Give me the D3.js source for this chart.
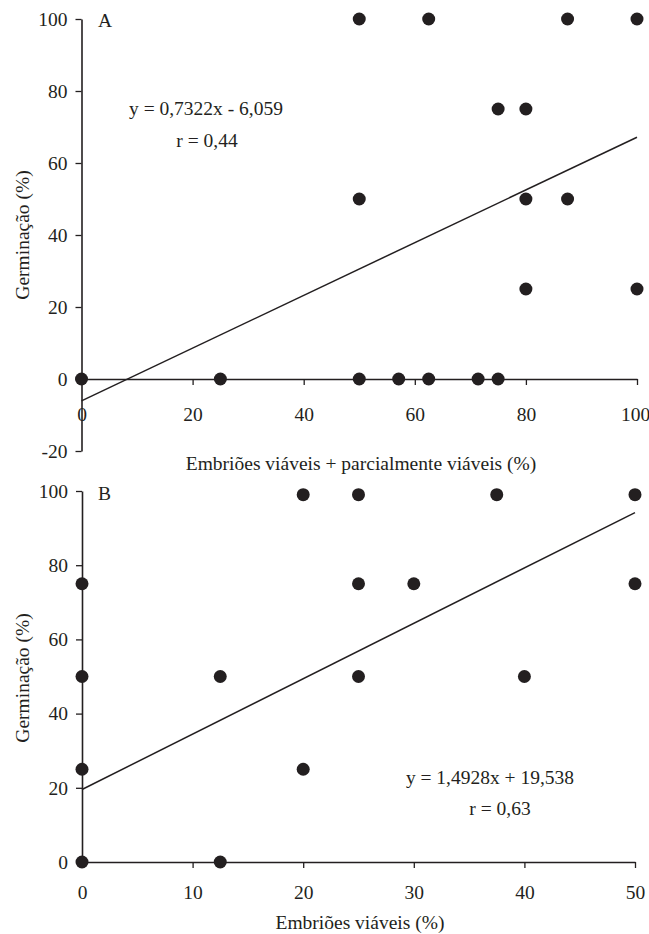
<!DOCTYPE html>
<html>
<head>
<meta charset="utf-8">
<script src="https://cdn.jsdelivr.net/npm/d3@7"></script>
<style>
  html, body { margin: 0; padding: 0; background: #fff; }
  svg { display: block; }
</style>
</head>
<body>
<svg id="chart" width="649" height="934"></svg>
<script>
// ---------- Data ----------
// Panel A: Embriões viáveis + parcialmente viáveis (%) vs Germinação (%)
const panelA_x = [0, 25, 50, 57.1, 62.5, 71.4, 75, 80, 100, 50, 80, 87.5, 75, 80, 50, 62.5, 87.5, 100];
const panelA_y = [0, 0, 0, 0, 0, 0, 0, 25, 25, 50, 50, 50, 75, 75, 100, 100, 100, 100];
const panelA_xTicks = [0, 20, 40, 60, 80, 100];
const panelA_yTicks = [-20, 0, 20, 40, 60, 80, 100];
const panelA_slope = 0.7322, panelA_intercept = -6.059;
const panelA_eq = "y = 0,7322x - 6,059";
const panelA_r = "r = 0,44";

// Panel B: Embriões viáveis (%) vs Germinação (%)
const panelB_x = [0, 12.5, 0, 20, 0, 12.5, 25, 40, 0, 25, 30, 50, 20, 25, 37.5, 50];
const panelB_y = [0, 0, 25, 25, 50, 50, 50, 50, 75, 75, 75, 75, 99, 99, 99, 99];
const panelB_xTicks = [0, 10, 20, 30, 40, 50];
const panelB_yTicks = [0, 20, 40, 60, 80, 100];
const panelB_slope = 1.4928, panelB_intercept = 19.538;
const panelB_eq = "y = 1,4928x + 19,538";
const panelB_r = "r = 0,63";

const yTitle = "Germinação (%)";
const xTitleA = "Embriões viáveis + parcialmente viáveis (%)";
const xTitleB = "Embriões viáveis (%)";

// ---------- Drawing ----------
const ink = "#231f20";
const FONT = "Liberation Serif";
const fontSize = 19.5;
const svg = d3.select("#chart");
const fmt = d => String(d); // plain hyphen for negatives, as in the reference

function txt(sel) {
  return sel.style("font-family", FONT).style("font-size", fontSize + "px").attr("fill", ink);
}

function drawPanel(cfg) {
  const g = svg.append("g");
  const x = d3.scaleLinear().domain(cfg.xDomain).range(cfg.xRange);
  const y = d3.scaleLinear().domain(cfg.yDomain).range(cfg.yRange);

  const ya = g.append("g")
    .attr("transform", `translate(${x(0)},0)`)
    .call(d3.axisLeft(y).tickValues(cfg.yTicks).tickSize(6).tickSizeOuter(0).tickPadding(8).tickFormat(fmt));
  const xa = g.append("g")
    .attr("transform", `translate(0,${y(0)})`)
    .call(d3.axisBottom(x).tickValues(cfg.xTicks).tickSize(6).tickSizeOuter(0).tickPadding(cfg.xPad).tickFormat(fmt));

  [ya, xa].forEach(a => {
    a.attr("font-family", FONT);
    a.select(".domain").attr("stroke", ink).attr("stroke-width", 1.6);
    a.selectAll(".tick line").attr("stroke", ink).attr("stroke-width", 1.3);
    txt(a.selectAll(".tick text"));
  });
  xa.selectAll(".tick text").filter(d => d === cfg.xDomain[1]).attr("dx", cfg.lastDx);

  const xs = d3.extent(cfg.xDomain);
  g.append("line")
    .attr("x1", x(xs[0])).attr("y1", y(cfg.slope * xs[0] + cfg.intercept))
    .attr("x2", x(xs[1])).attr("y2", y(cfg.slope * xs[1] + cfg.intercept))
    .attr("stroke", ink).attr("stroke-width", 1.5);

  g.selectAll("circle.pt").data(cfg.xs.map((v, i) => [v, cfg.ys[i]]))
    .join("circle").attr("class", "pt")
    .attr("cx", d => x(d[0])).attr("cy", d => y(d[1]))
    .attr("r", 6.5).attr("fill", ink);

  txt(g.append("text").attr("x", cfg.letterPos[0]).attr("y", cfg.letterPos[1])
    .attr("dominant-baseline", "central")).text(cfg.letter);

  txt(g.append("text").attr("x", cfg.eqPos[0]).attr("y", cfg.eqPos[1])
    .attr("text-anchor", "middle")).text(cfg.eq);
  txt(g.append("text").attr("x", cfg.rPos[0]).attr("y", cfg.rPos[1])
    .attr("text-anchor", "middle")).text(cfg.r);

  txt(g.append("text").attr("x", cfg.xTitlePos[0]).attr("y", cfg.xTitlePos[1])
    .attr("text-anchor", "middle").attr("dominant-baseline", "central")).text(cfg.xTitle);
  txt(g.append("text")
    .attr("transform", `translate(${cfg.yTitlePos[0]},${cfg.yTitlePos[1]}) rotate(-90)`)
    .attr("text-anchor", "middle").attr("dominant-baseline", "central")).text(yTitle);
}

drawPanel({
  xDomain: [0, 100], xRange: [81.5, 637],
  yDomain: [-20, 100], yRange: [451, 19],
  xTicks: panelA_xTicks, yTicks: panelA_yTicks, xPad: 22, lastDx: -2,
  xs: panelA_x, ys: panelA_y,
  slope: panelA_slope, intercept: panelA_intercept,
  letter: "A", letterPos: [98, 20],
  eq: panelA_eq, eqPos: [206, 115], r: panelA_r, rPos: [207, 147],
  xTitle: xTitleA, xTitlePos: [361, 463],
  yTitlePos: [22, 235]
});

drawPanel({
  xDomain: [0, 50], xRange: [82, 635],
  yDomain: [0, 100], yRange: [862, 491],
  xTicks: panelB_xTicks, yTicks: panelB_yTicks, xPad: 17, lastDx: 0,
  xs: panelB_x, ys: panelB_y,
  slope: panelB_slope, intercept: panelB_intercept,
  letter: "B", letterPos: [98, 493],
  eq: panelB_eq, eqPos: [490, 784], r: panelB_r, rPos: [500, 815],
  xTitle: xTitleB, xTitlePos: [360, 922],
  yTitlePos: [22, 678]
});
</script>
</body>
</html>
